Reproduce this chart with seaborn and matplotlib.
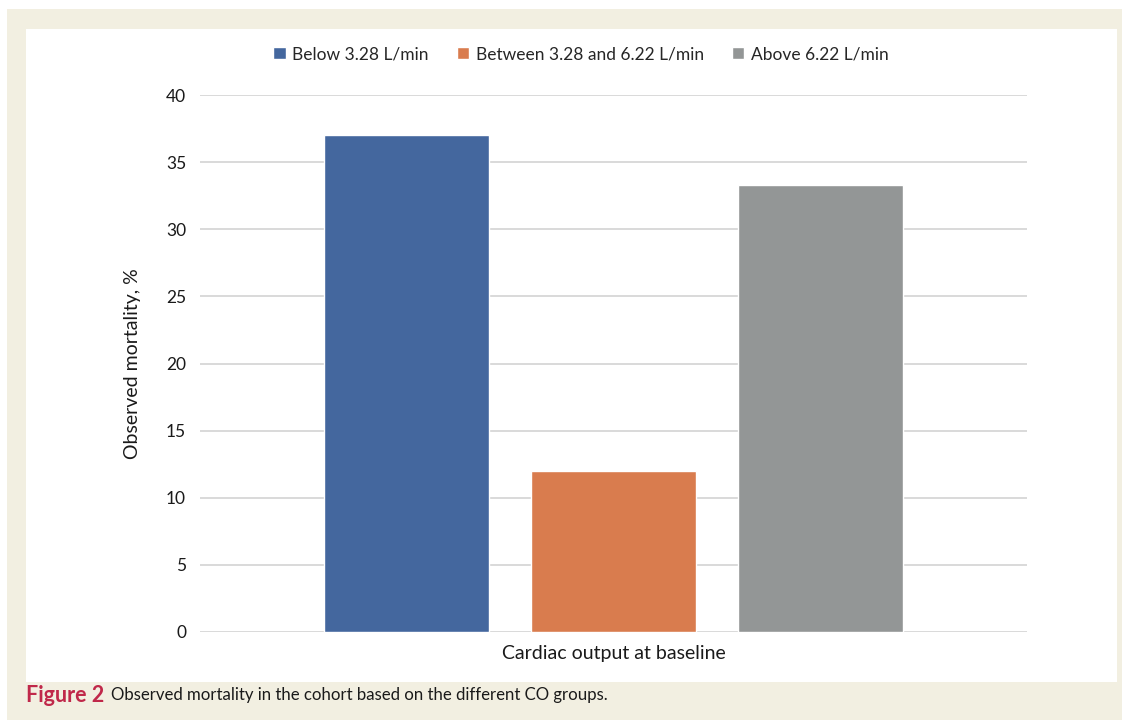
import pandas as pd
import seaborn as sns
import matplotlib.pyplot as plt
from matplotlib.patches import Rectangle

# values
groups = ["Below 3.28 L/min", "Between 3.28 and 6.22 L/min", "Above 6.22 L/min"]
mortality = [37.0, 12.0, 33.3]
category = ["Cardiac output at baseline"] * 3
colors = ["#44679E", "#D97C4E", "#939696"]

df = pd.DataFrame({"Category": category, "Group": groups, "Mortality": mortality})

sns.set_style("white")
plt.rcParams["font.family"] = ["Lato", "DejaVu Sans"]

fig = plt.figure(figsize=(11.29, 7.22), dpi=100, facecolor="white")

# cream frame and white panel behind the chart
fig.patches.append(Rectangle((7 / 1129, 1 - 720 / 722), (1122 - 7) / 1129, (720 - 9) / 722,
                             transform=fig.transFigure, facecolor="#F2EFE1", edgecolor="none", zorder=-3))
fig.patches.append(Rectangle((26 / 1129, 1 - 682 / 722), (1117 - 26) / 1129, (682 - 29) / 722,
                             transform=fig.transFigure, facecolor="white", edgecolor="none", zorder=-2))

ax = fig.add_axes([200 / 1129, 1 - 632 / 722, 827 / 1129, (632 - 95) / 722])
ax.set_facecolor("none")

sns.barplot(data=df, x="Category", y="Mortality", hue="Group", palette=colors,
            width=0.75, gap=0.2, ax=ax, saturation=1, legend=True)

ax.set_ylim(0, 40)
ax.set_yticks(range(0, 45, 5))
ax.set_xlim(-0.5, 0.5)
ax.grid(axis="y", color="#D9D9D9", linewidth=1.4)
ax.set_axisbelow(True)
for s in ax.spines.values():
    s.set_visible(False)
ax.tick_params(axis="both", length=0, labelsize=12.5, colors="#1A1A1A")
ax.tick_params(axis="y", pad=10)
ax.tick_params(axis="x", pad=9, labelsize=14)
ax.set_xlabel("")
ax.set_ylabel("Observed mortality, %", fontsize=14, color="#1A1A1A", labelpad=18)

handles, labels = ax.get_legend_handles_labels()
ax.get_legend().remove()
fig.legend(handles, labels, loc="center", bbox_to_anchor=(581 / 1129, 1 - 54 / 722), ncol=3,
           frameon=False, fontsize=12.5, handlelength=0.7, handleheight=0.7,
           handletextpad=0.4, columnspacing=1.6)

# caption: red bold "Figure 2" followed by plain text
t1 = fig.text(26 / 1129, 1 - 695 / 722, "Figure 2", color="#C0284A", fontweight="bold",
              fontsize=15.5, va="center", ha="left")
fig.canvas.draw()
bb = t1.get_window_extent()
fig.text((bb.x1 + 7) / 1129, 1 - 695 / 722,
         "Observed mortality in the cohort based on the different CO groups.",
         fontsize=12.1, va="center", ha="left", color="#1A1A1A")

fig.savefig("out.png", dpi=100)
